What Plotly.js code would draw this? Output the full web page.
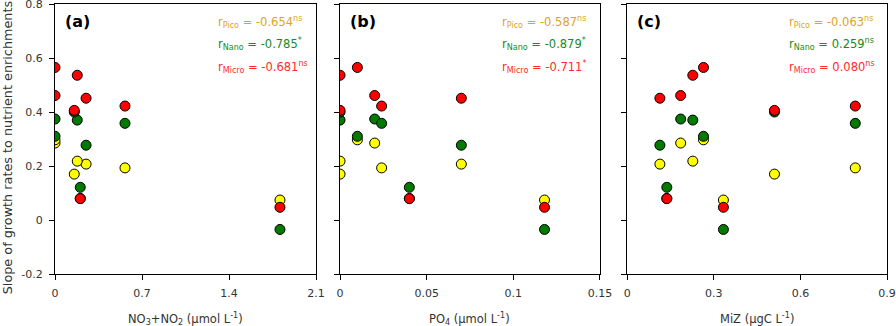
<!DOCTYPE html>
<html>
<head>
<meta charset="utf-8">
<script src="https://cdn.plot.ly/plotly-3.0.1.min.js"></script>
<style>
  body { margin: 0; background: #fff; }
  #graphDiv { width: 896px; height: 326px; }
</style>
</head>
<body>
<div id="graphDiv"></div>
<script>
// Slope of growth rates vs. nutrients / MiZ, 8 stations (A..H)
var no3no2 = [0.25, 0.203, 0, 0.179, 0, 1.81, 0.155, 0.563];
var po4 = [0.07, 0.04, 0.02, 0, 0.01, 0.118, 0, 0.024];
var miz = [0.113, 0.137, 0.185, 0.227, 0.264, 0.333, 0.51, 0.79];

var pico = [0.207, 0.08, 0.285, 0.218, 0.297, 0.074, 0.17, 0.193];
var nano = [0.277, 0.121, 0.374, 0.37, 0.31, -0.035, 0.40, 0.358];
var micro = [0.451, 0.079, 0.461, 0.536, 0.565, 0.047, 0.406, 0.422];

var panelLabels = ["(a)", "(b)", "(c)"];
var xTitles = ["NO<sub>3</sub>+NO<sub>2</sub> (µmol L<sup>-1</sup>)",
               "PO<sub>4</sub> (µmol L<sup>-1</sup>)",
               "MiZ (µgC L<sup>-1</sup>)"];
var rPico = ["-0.654<sup>ns</sup>", "-0.587<sup>ns</sup>", "-0.063<sup>ns</sup>"];
var rNano = ["-0.785<sup>*</sup>", "-0.879<sup>*</sup>", "0.259<sup>ns</sup>"];
var rMicro = ["-0.681<sup>ns</sup>", "-0.711<sup>*</sup>", "0.080<sup>ns</sup>"];

var xRanges = [[0, 2.1], [0, 0.15], [0, 0.9]];
var xTicks = [[0, 0.7, 1.4, 2.1], [0, 0.05, 0.1, 0.15], [0, 0.3, 0.6, 0.9]];
var xTickText = [["0", "0.7", "1.4", "2.1"], ["0", "0.05", "0.1", "0.15"], ["0", "0.3", "0.6", "0.9"]];

var domains = [[0.0614, 0.3527], [0.3795, 0.6696], [0.7001, 0.9900]];
var xs = [no3no2, po4, miz];

var FONT = "'DejaVu Sans', Lato, sans-serif";
var colPico = "#ffff00", colNano = "#007a00", colMicro = "#ff0000";
var txtPico = "#dba520", txtNano = "#1a8a1a", txtMicro = "#ff2a2a";

var data = [];
var layout = {
    width: 896,
    height: 326,
    margin: { l: 0, r: 0, t: 4, b: 52 },
    paper_bgcolor: "#fff",
    plot_bgcolor: "#fff",
    showlegend: false,
    font: { family: FONT, size: 11, color: "#222" },
    annotations: []
};

var series = [[pico, colPico], [nano, colNano], [micro, colMicro]];

for (var p = 0; p < 3; p++) {
    var sx = p == 0 ? "" : String(p + 1);
    series.forEach(function (s) {
        data.push({
            x: xs[p],
            y: s[0],
            xaxis: "x" + sx,
            yaxis: "y" + sx,
            type: "scatter",
            mode: "markers",
            marker: { size: 10, color: s[1], line: { color: "#000", width: 1 } },
            hoverinfo: "x+y"
        });
    });

    layout["xaxis" + sx] = {
        domain: domains[p],
        range: xRanges[p],
        anchor: "y" + sx,
        tickmode: "array",
        tickvals: xTicks[p],
        ticktext: xTickText[p],
        ticks: "outside",
        ticklen: 5,
        tickcolor: "#000",
        showline: true,
        linecolor: "#000",
        linewidth: 1,
        mirror: true,
        showgrid: false,
        zeroline: false,
        ticklabelstandoff: 4,
        ticklabeloverflow: "allow",
        tickfont: { family: FONT, size: 11, color: "#333" },
        automargin: false
    };
    layout["yaxis" + sx] = {
        domain: [0, 1],
        range: [-0.2, 0.8],
        anchor: "x" + sx,
        tickvals: [-0.2, 0, 0.2, 0.4, 0.6, 0.8],
        ticktext: ["-0.2", "0", "0.2", "0.4", "0.6", "0.8"],
        ticks: "outside",
        ticklen: 5,
        tickcolor: "#000",
        showticklabels: p == 0,
        showline: true,
        linecolor: "#000",
        linewidth: 1,
        mirror: true,
        showgrid: false,
        zeroline: false,
        ticklabelstandoff: 4,
        ticklabeloverflow: "allow",
        tickfont: { family: FONT, size: 11, color: "#333" },
        automargin: false
    };

    var xd = "x" + sx + " domain", yd = "y" + sx + " domain";
    layout.annotations.push({
        xref: xd, yref: yd, x: 0.03, y: 0.935, xanchor: "left", yanchor: "middle",
        text: "<b>" + panelLabels[p] + "</b>", showarrow: false,
        font: { family: FONT, size: 16, color: "#000" }
    });
    var rows = [["Pico", rPico[p], txtPico], ["Nano", rNano[p], txtNano], ["Micro", rMicro[p], txtMicro]];
    rows.forEach(function (r, i) {
        layout.annotations.push({
            xref: xd, yref: yd, x: 0.615, y: 0.935 - i * 0.085, xanchor: "left", yanchor: "middle",
            text: "r<sub>" + r[0] + "</sub> = " + r[1], showarrow: false,
            font: { family: FONT, size: 11.5, color: r[2] }
        });
    });
    layout.annotations.push({
        xref: "paper", yref: "paper", x: (domains[p][0] + domains[p][1]) / 2, y: -0.165,
        xanchor: "center", yanchor: "middle", text: xTitles[p], showarrow: false,
        font: { family: FONT, size: 11.5, color: "#333" }
    });
}

layout.annotations.push({
    xref: "paper", yref: "paper", x: 0.008, y: 0.47, xanchor: "center", yanchor: "middle",
    textangle: -90, text: "Slope of growth rates to nutrient enrichments", showarrow: false,
    font: { family: FONT, size: 12.8, color: "#333" }
});

var graphDiv = document.getElementById("graphDiv");
Plotly.newPlot(graphDiv, data, layout, { displayModeBar: false, staticPlot: true });
</script>
</body>
</html>
